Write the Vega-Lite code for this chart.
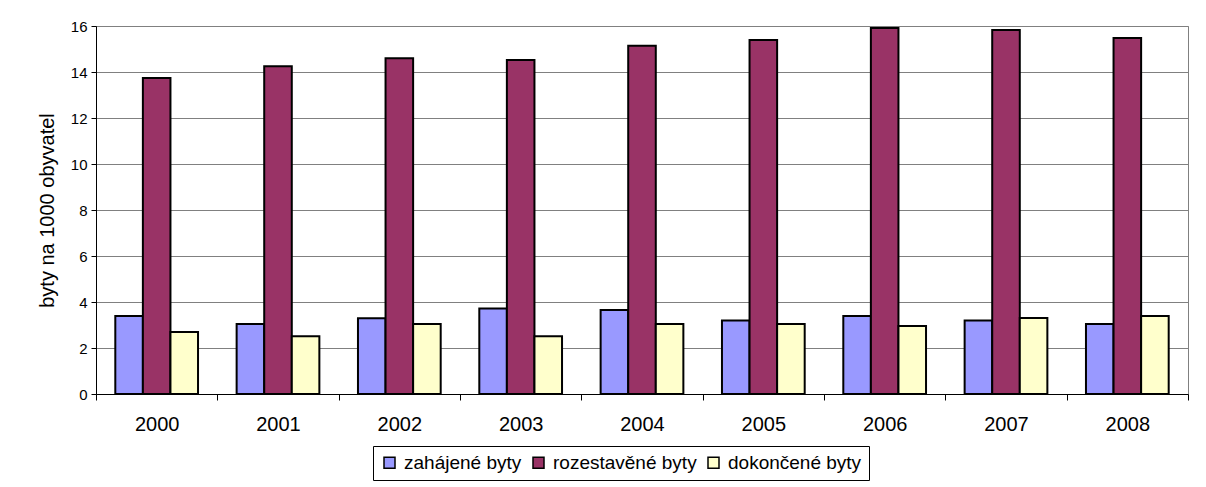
{
  "$schema": "https://vega.github.io/schema/vega-lite/v6.json",
  "width": 1092,
  "height": 368,
  "autosize": {"type": "none"},
  "padding": {"left": 96, "top": 26, "right": 18, "bottom": 93},
  "background": "white",
  "config": {
    "font": "Liberation Sans",
    "view": {"stroke": "#808080", "strokeWidth": 1}
  },
  "data": {
    "values": [
      {"rok": "2000", "serie": "zahájené byty", "hodnota": 3.39},
      {"rok": "2000", "serie": "rozestavěné byty", "hodnota": 13.74},
      {"rok": "2000", "serie": "dokončené byty", "hodnota": 2.70},
      {"rok": "2001", "serie": "zahájené byty", "hodnota": 3.04},
      {"rok": "2001", "serie": "rozestavěné byty", "hodnota": 14.25},
      {"rok": "2001", "serie": "dokončené byty", "hodnota": 2.51},
      {"rok": "2002", "serie": "zahájené byty", "hodnota": 3.29},
      {"rok": "2002", "serie": "rozestavěné byty", "hodnota": 14.60},
      {"rok": "2002", "serie": "dokončené byty", "hodnota": 3.04},
      {"rok": "2003", "serie": "zahájené byty", "hodnota": 3.72},
      {"rok": "2003", "serie": "rozestavěné byty", "hodnota": 14.52},
      {"rok": "2003", "serie": "dokončené byty", "hodnota": 2.51},
      {"rok": "2004", "serie": "zahájené byty", "hodnota": 3.65},
      {"rok": "2004", "serie": "rozestavěné byty", "hodnota": 15.14},
      {"rok": "2004", "serie": "dokončené byty", "hodnota": 3.04},
      {"rok": "2005", "serie": "zahájené byty", "hodnota": 3.20},
      {"rok": "2005", "serie": "rozestavěné byty", "hodnota": 15.39},
      {"rok": "2005", "serie": "dokončené byty", "hodnota": 3.04},
      {"rok": "2006", "serie": "zahájené byty", "hodnota": 3.39},
      {"rok": "2006", "serie": "rozestavěné byty", "hodnota": 15.91},
      {"rok": "2006", "serie": "dokončené byty", "hodnota": 2.96},
      {"rok": "2007", "serie": "zahájené byty", "hodnota": 3.20},
      {"rok": "2007", "serie": "rozestavěné byty", "hodnota": 15.83},
      {"rok": "2007", "serie": "dokončené byty", "hodnota": 3.30},
      {"rok": "2008", "serie": "zahájené byty", "hodnota": 3.04},
      {"rok": "2008", "serie": "rozestavěné byty", "hodnota": 15.48},
      {"rok": "2008", "serie": "dokončené byty", "hodnota": 3.39}
    ]
  },
  "mark": {"type": "bar", "stroke": "black", "strokeWidth": 2, "opacity": 1},
  "encoding": {
    "x": {
      "field": "rok",
      "type": "nominal",
      "scale": {"paddingInner": 0, "paddingOuter": 0},
      "axis": {
        "title": null,
        "labelAngle": 0,
        "labelFontSize": 20,
        "labelColor": "black",
        "labelPadding": 14,
        "domainColor": "black",
        "domainWidth": 1,
        "tickColor": "black",
        "tickSize": 6,
        "tickBand": "extent",
        "grid": false
      }
    },
    "xOffset": {
      "field": "serie",
      "type": "nominal",
      "sort": ["zahájené byty", "rozestavěné byty", "dokončené byty"],
      "scale": {"paddingInner": 0, "paddingOuter": 0.7}
    },
    "y": {
      "field": "hodnota",
      "type": "quantitative",
      "scale": {"domain": [0, 16], "nice": false},
      "axis": {
        "title": "byty na 1000 obyvatel",
        "titleFontSize": 20,
        "titleFontWeight": "normal",
        "titleColor": "black",
        "titlePadding": 13,
        "values": [0, 2, 4, 6, 8, 10, 12, 14, 16],
        "labelFontSize": 15,
        "labelColor": "black",
        "labelPadding": 4,
        "domainColor": "black",
        "domainWidth": 1,
        "tickColor": "black",
        "tickSize": 5,
        "grid": true,
        "gridColor": "#808080",
        "gridWidth": 1,
        "gridOpacity": 1
      }
    },
    "fill": {
      "field": "serie",
      "type": "nominal",
      "sort": ["zahájené byty", "rozestavěné byty", "dokončené byty"],
      "scale": {
        "domain": ["zahájené byty", "rozestavěné byty", "dokončené byty"],
        "range": ["#9999FF", "#993366", "#FFFFCC"]
      },
      "legend": {
        "title": null,
        "orient": "none",
        "direction": "horizontal",
        "legendX": 277,
        "legendY": 420,
        "padding": 7,
        "strokeColor": "black",
        "fillColor": "white",
        "symbolType": "square",
        "symbolSize": 121,
        "symbolStrokeColor": "black",
        "symbolStrokeWidth": 1.5,
        "symbolOpacity": 1,
        "labelFontSize": 19,
        "labelColor": "black",
        "labelOffset": 5,
        "columnPadding": 7,
        "labelLimit": 300
      }
    }
  }
}
